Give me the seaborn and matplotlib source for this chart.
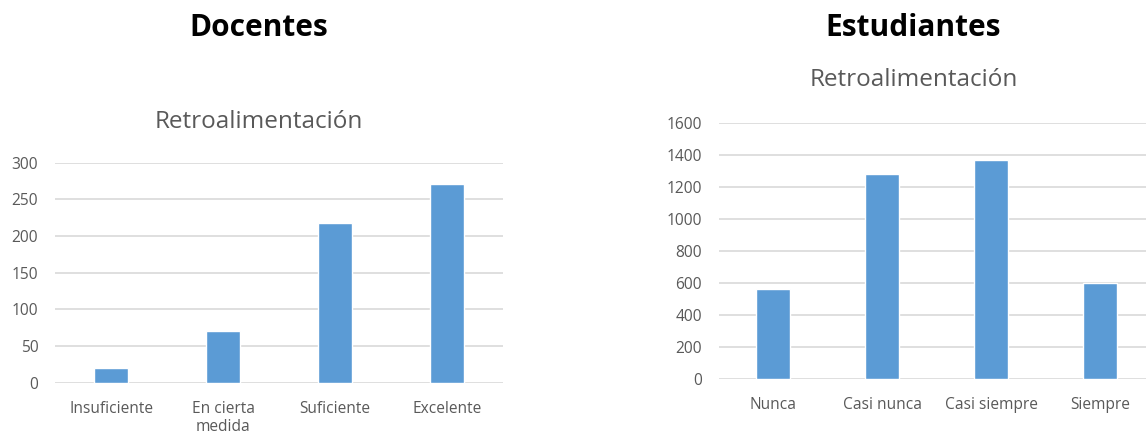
import matplotlib
matplotlib.use("Agg")
import matplotlib.pyplot as plt
import seaborn as sns

# Data
docentes_cats = ["Insuficiente", "En cierta\nmedida", "Suficiente", "Excelente"]
docentes_vals = [20, 70, 218, 271]
docentes_ticks = [0, 50, 100, 150, 200, 250, 300]

estudiantes_cats = ["Nunca", "Casi nunca", "Casi siempre", "Siempre"]
estudiantes_vals = [561, 1280, 1368, 600]
estudiantes_ticks = [0, 200, 400, 600, 800, 1000, 1200, 1400, 1600]

BAR = "#5B9BD5"
GRID = "#D9D9D9"
TXT = "#595959"

sns.set_theme(style="white")
plt.rcParams['font.family'] = ['Open Sans', 'DejaVu Sans']


def draw_panel(ax, cats, vals, ticks):
    sns.barplot(x=cats, y=vals, color=BAR, saturation=1, width=0.31, ax=ax)
    ax.set_ylim(ticks[0], ticks[-1])
    ax.set_yticks(ticks)
    ax.set_yticklabels([str(t) for t in ticks])
    ax.set_xlim(-0.5, len(cats) - 0.5)
    for t in ticks:
        ax.axhline(t, color=GRID, linewidth=1.2, zorder=0)
    ax.set_axisbelow(True)
    for s in ax.spines.values():
        s.set_visible(False)
    ax.tick_params(axis="both", length=0, labelsize=11.2, labelcolor=TXT)
    ax.tick_params(axis="y", pad=12)
    ax.tick_params(axis="x", pad=13)
    ax.set_xlabel("")
    ax.set_ylabel("")


fig = plt.figure(figsize=(11.46, 4.37), dpi=100)

ax1 = fig.add_axes([0.048, 0.1243, 0.391, 0.5034])
draw_panel(ax1, docentes_cats, docentes_vals, docentes_ticks)

ax2 = fig.add_axes([0.627, 0.132, 0.3805, 0.587])
draw_panel(ax2, estudiantes_cats, estudiantes_vals, estudiantes_ticks)

fig.text(0.226, 0.936, "Docentes", ha="center", va="center",
         fontsize=21.5, fontweight="bold", color="black")
fig.text(0.797, 0.936, "Estudiantes", ha="center", va="center",
         fontsize=21.5, fontweight="bold", color="black")
fig.text(0.226, 0.721, "Retroalimentación", ha="center", va="center",
         fontsize=17.5, color=TXT)
fig.text(0.797, 0.817, "Retroalimentación", ha="center", va="center",
         fontsize=17.5, color=TXT)

fig.savefig("out.png", dpi=100)
plt.close(fig)
